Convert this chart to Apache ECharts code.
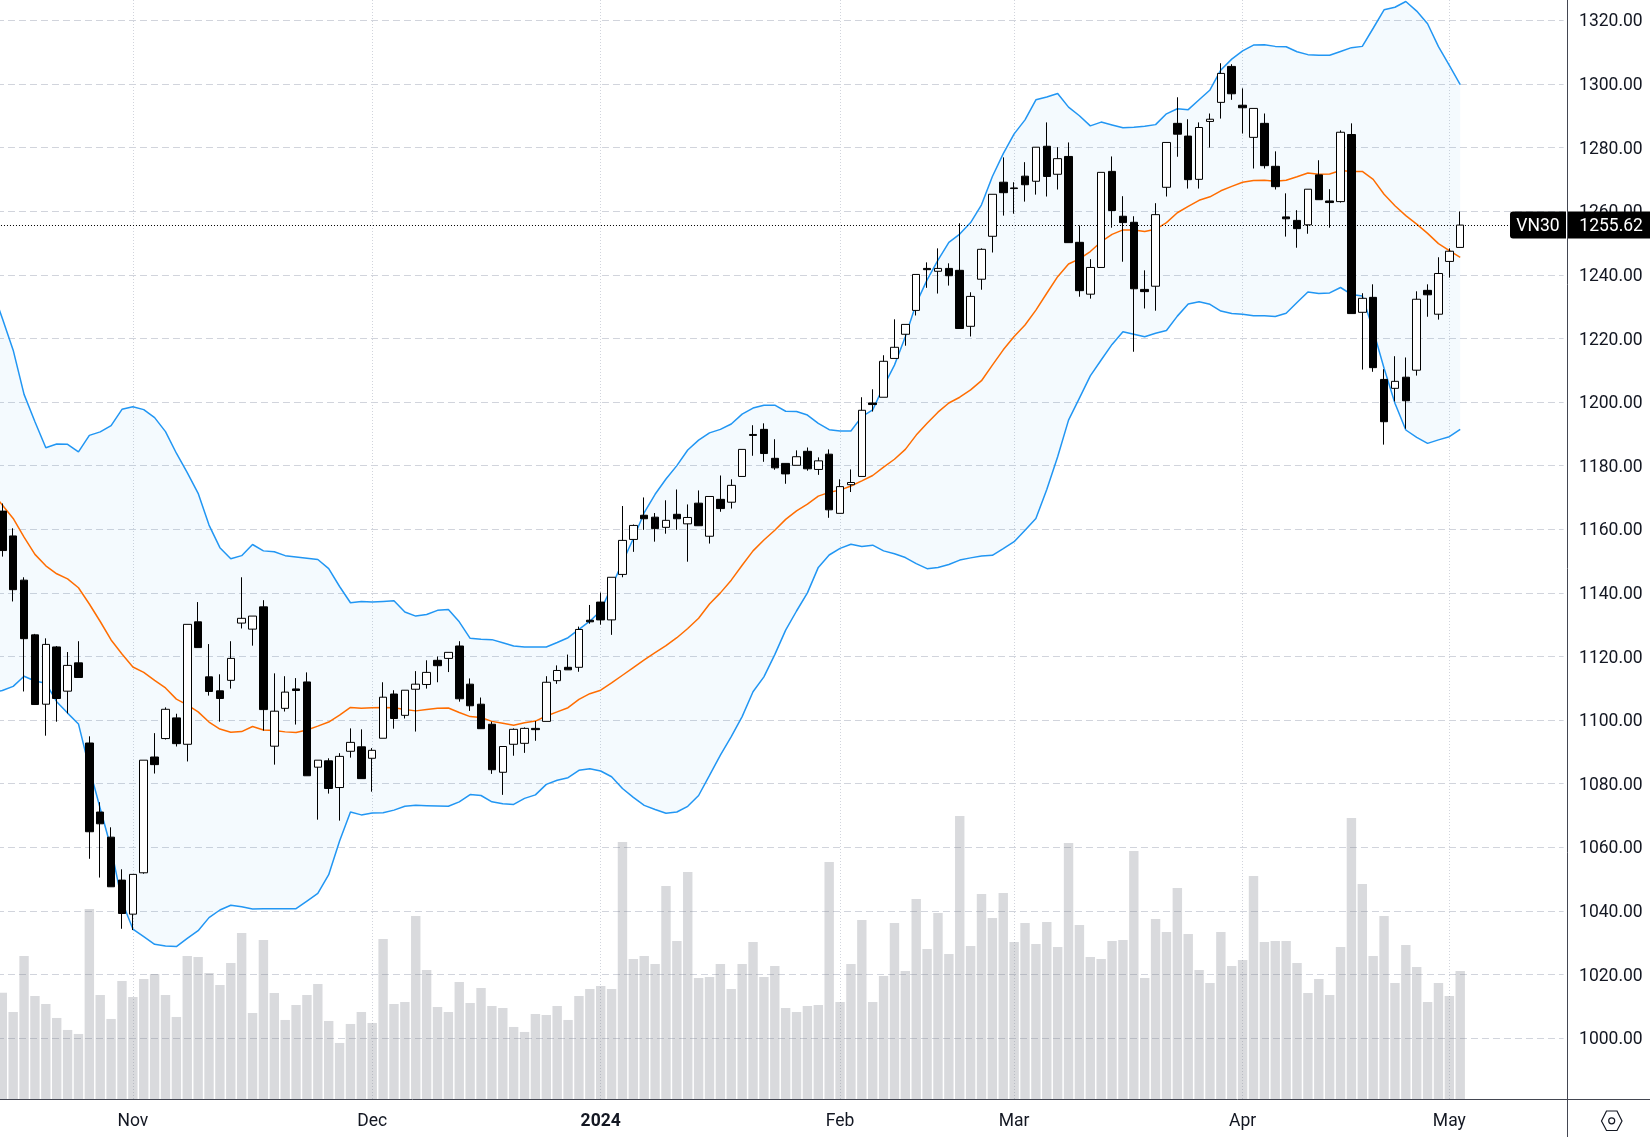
<!DOCTYPE html>
<html>
<head>
<meta charset="utf-8">
<title>VN30 daily</title>
<style>html,body{margin:0;padding:0;background:#fff}#chart{width:1650px;height:1137px}</style>
<script src="https://cdn.jsdelivr.net/npm/echarts@6/dist/echarts.min.js"></script>
</head>
<body>
<div id="chart"></div>
<script>
// Daily sessions, oldest first: [open, close, low, high]. The first row precedes the visible window.
const candles = [
[1170.0,1165.9,1164.5,1172.0],
[1165.7,1153.3,1151.4,1168.1],[1157.9,1141.0,1137.3,1160.3],[1144.0,1125.6,1109.0,1144.9],[1126.8,1104.9,1104.9,1127.1],
[1105.0,1123.8,1095.1,1125.7],[1123.0,1106.8,1099.5,1123.3],[1109.1,1117.2,1102.1,1121.4],[1118.0,1113.4,1113.4,1124.8],
[1092.8,1064.9,1056.4,1094.9],[1071.1,1067.4,1050.5,1074.2],[1063.2,1047.6,1047.6,1066.3],[1049.7,1039.2,1034.4,1053.1],
[1039.0,1051.5,1034.0,1051.5],[1052.0,1087.4,1051.7,1087.4],[1088.4,1086.0,1083.2,1095.9],[1094.2,1103.4,1093.9,1104.0],
[1100.7,1092.6,1091.7,1102.0],[1092.4,1130.1,1087.0,1130.1],[1130.9,1122.8,1122.8,1137.1],[1113.6,1109.0,1107.7,1123.9],
[1109.2,1106.8,1099.5,1114.4],[1112.5,1119.4,1109.9,1124.8],[1130.5,1132.0,1128.8,1144.9],[1128.6,1132.7,1123.4,1132.7],
[1135.6,1103.3,1096.7,1137.7],[1091.8,1102.8,1086.0,1114.7],[1103.7,1108.8,1102.7,1113.8],[1109.8,1109.3,1098.6,1113.2],
[1112.0,1082.5,1082.5,1115.0],[1085.2,1087.4,1068.7,1087.4],[1087.2,1078.5,1076.9,1088.0],[1078.8,1088.6,1068.4,1089.6],
[1090.2,1093.0,1088.2,1097.4],[1091.6,1081.6,1081.6,1097.1],[1088.0,1090.5,1077.5,1091.2],[1094.3,1107.2,1094.3,1111.9],
[1108.2,1100.5,1097.3,1109.4],[1101.5,1109.4,1100.5,1109.4],[1109.7,1111.3,1096.4,1115.4],[1111.2,1115.0,1109.9,1118.8],
[1118.8,1117.1,1111.9,1120.0],[1119.4,1121.3,1115.1,1121.3],[1123.3,1106.7,1105.8,1124.8],[1111.3,1104.5,1102.9,1113.1],
[1105.0,1097.3,1097.3,1107.1],[1098.7,1084.4,1083.1,1099.5],[1083.6,1091.7,1076.5,1091.7],[1092.4,1097.1,1088.8,1097.4],
[1092.7,1097.4,1089.7,1097.7],[1097.4,1097.0,1093.5,1099.7],[1099.6,1111.9,1099.6,1113.8],[1112.4,1115.6,1111.4,1117.2],
[1116.6,1115.8,1115.8,1120.6],[1116.6,1128.5,1115.2,1129.4],[1131.4,1130.9,1130.3,1136.2],[1137.1,1131.5,1130.0,1140.1],
[1131.5,1144.9,1126.8,1144.9],[1145.8,1156.5,1144.9,1167.3],[1156.8,1161.2,1152.9,1161.5],[1164.4,1163.3,1159.8,1170.0],
[1163.8,1160.2,1156.1,1165.1],[1160.6,1162.8,1158.6,1169.1],[1164.7,1163.3,1159.8,1172.5],[1161.7,1163.7,1149.8,1167.8],
[1168.2,1161.1,1161.1,1172.2],[1157.8,1170.3,1155.5,1170.3],[1169.4,1166.5,1165.5,1176.9],[1168.5,1173.8,1166.5,1175.7],
[1176.6,1185.1,1176.6,1185.1],[1189.8,1189.5,1183.1,1192.7],[1191.4,1183.8,1181.2,1193.3],[1182.3,1179.3,1178.7,1188.3],
[1180.7,1177.4,1174.3,1180.7],[1180.1,1182.8,1180.1,1184.8],[1184.5,1179.0,1178.4,1185.7],[1178.8,1181.5,1177.1,1182.6],
[1183.6,1166.1,1163.6,1185.1],[1165.0,1173.4,1165.0,1175.7],[1174.0,1174.7,1171.7,1178.8],[1176.6,1197.4,1176.6,1201.5],
[1199.7,1199.2,1197.0,1204.0],[1201.5,1212.8,1201.5,1214.7],[1213.7,1217.2,1213.7,1226.0],[1221.3,1224.4,1217.7,1224.4],
[1228.8,1240.1,1227.2,1240.1],[1242.0,1241.6,1235.9,1243.9],[1241.1,1242.0,1234.1,1248.3],[1242.0,1239.7,1236.6,1243.6],
[1241.4,1223.1,1223.1,1256.2],[1223.8,1233.2,1220.6,1234.5],[1238.6,1248.0,1235.3,1248.3],[1252.1,1265.3,1247.0,1265.3],
[1269.1,1265.8,1258.6,1276.9],[1267.3,1267.1,1259.2,1269.1],[1271.0,1268.3,1263.0,1275.4],[1269.4,1280.1,1265.2,1280.1],
[1280.4,1270.9,1264.6,1287.9],[1271.6,1276.5,1266.8,1280.1],[1277.2,1250.1,1250.1,1281.6],[1250.2,1235.0,1233.1,1255.5],
[1233.9,1242.3,1232.5,1244.9],[1242.3,1272.2,1242.3,1272.2],[1272.5,1260.2,1254.8,1277.2],[1258.4,1256.4,1244.1,1264.7],
[1256.5,1235.6,1215.8,1258.4],[1235.4,1234.7,1229.4,1241.4],[1236.4,1258.9,1228.7,1262.5],[1267.5,1281.6,1264.6,1281.6],
[1287.6,1284.2,1277.1,1295.8],[1283.6,1269.9,1267.1,1288.9],[1270.0,1286.3,1267.1,1287.9],[1288.2,1288.9,1280.0,1290.7],
[1294.2,1303.3,1289.1,1306.5],[1305.5,1296.9,1295.0,1306.2],[1293.3,1292.5,1284.4,1298.6],[1283.2,1292.3,1273.4,1292.3],
[1287.6,1274.3,1273.4,1290.7],[1274.1,1267.7,1266.8,1278.8],[1258.2,1257.6,1252.0,1265.6],[1257.1,1254.5,1248.5,1260.3],
[1255.7,1266.9,1252.9,1266.9],[1271.4,1263.6,1263.6,1276.0],[1263.2,1262.7,1254.8,1266.9],[1263.0,1284.8,1262.7,1285.4],
[1284.1,1227.8,1227.8,1287.6],[1228.2,1232.6,1210.2,1234.2],[1232.9,1210.8,1209.5,1237.0],[1207.1,1193.8,1186.6,1210.3],
[1204.3,1206.5,1200.2,1214.4],[1207.8,1200.4,1191.6,1214.0],[1210.0,1232.3,1208.3,1234.8],[1235.1,1233.7,1226.8,1237.0],
[1227.6,1240.4,1225.9,1245.5],[1244.2,1247.4,1239.1,1248.3],[1248.6,1255.62,1248.6,1259.9]
];

// Traded volume per session, in millions of shares
const volumes = [
33.0,
32.0,26.2,43.0,31.0,28.6,24.4,20.8,19.6,57.1,31.3,24.1,35.5,30.7,36.1,37.6,31.3,24.7,43.0,42.7,37.9,
34.3,40.9,49.9,25.9,47.8,31.9,23.8,28.3,31.3,34.6,23.5,16.9,22.6,26.2,22.9,48.1,28.6,29.2,55.0,38.8,
27.7,26.2,35.2,28.9,33.4,28.0,27.4,21.7,20.2,25.6,25.3,28.0,23.8,31.0,33.1,34.0,33.1,77.2,42.1,43.0,
40.6,64.0,47.5,68.2,36.4,36.7,40.6,33.1,40.6,47.2,36.7,40.0,27.4,26.2,28.0,28.3,71.2,29.2,40.6,53.8,
29.2,37.0,52.9,38.5,60.1,45.1,55.9,43.6,85.0,46.0,61.6,54.4,61.9,47.2,52.9,46.6,53.2,45.7,76.9,52.3,
42.7,42.1,47.5,47.8,74.5,36.4,54.1,50.2,63.4,49.6,38.8,34.9,50.2,40.0,41.8,67.0,47.2,47.5,47.5,40.9,
31.9,36.1,31.3,45.7,84.4,64.6,43.0,55.0,34.9,46.3,39.7,29.2,34.9,31.0,38.5
];

// Bollinger bands and their 20-session mean
const upperBand = [
1236.0,
1226.3,1216.3,1202.4,1193.8,1185.6,1186.8,1186.7,1184.3,1189.5,1190.6,
1192.6,1197.7,1198.5,1197.6,1195.1,1190.7,1183.9,1177.8,1171.3,1161.3,
1154.2,1150.7,1151.7,1155.2,1153.2,1152.9,1151.7,1151.3,1150.9,1150.5,
1147.6,1142.0,1136.9,1137.3,1137.1,1137.3,1137.5,1134.0,1132.7,1133.2,
1134.5,1134.8,1130.9,1125.7,1125.4,1125.3,1124.3,1123.3,1123.0,1123.0,
1123.0,1124.4,1125.9,1128.5,1131.1,1134.4,1141.9,1149.6,1157.1,1165.2,
1171.0,1175.8,1180.0,1184.9,1188.0,1190.3,1191.4,1193.1,1196.2,1198.1,
1199.0,1199.0,1197.1,1197.0,1195.9,1193.3,1191.3,1190.9,1190.9,1195.4,
1197.5,1204.9,1211.6,1220.5,1231.0,1238.4,1244.6,1250.2,1252.8,1256.4,
1262.0,1270.9,1278.1,1284.3,1288.7,1295.0,1295.9,1297.0,1292.7,1290.0,
1286.8,1288.0,1287.1,1286.2,1286.4,1286.7,1287.2,1290.6,1292.2,1291.9,
1295.0,1298.1,1304.4,1307.8,1310.4,1312.2,1312.3,1311.8,1311.7,1310.1,
1309.2,1309.0,1309.0,1310.2,1311.4,1311.8,1317.5,1323.3,1324.1,1325.9,
1322.9,1318.9,1311.7,1305.8,1299.8
];
const middleBand = [
1172.0,
1167.6,1163.4,1157.5,1152.1,1148.5,1146.0,1144.4,1141.6,1136.5,1131.0,
1125.2,1120.8,1116.7,1115.0,1112.5,1110.1,1106.6,1104.8,1102.6,1099.4,
1097.2,1096.2,1096.4,1098.0,1096.9,1096.7,1096.3,1096.1,1096.9,1098.1,
1099.4,1101.6,1104.0,1103.7,1103.9,1104.0,1103.9,1103.3,1102.9,1103.3,
1103.7,1103.8,1102.4,1101.1,1100.8,1099.6,1099.0,1098.4,1099.2,1099.7,
1101.3,1102.6,1103.9,1106.5,1108.3,1109.4,1111.7,1114.1,1116.5,1118.9,
1121.2,1123.4,1125.9,1128.8,1132.0,1136.5,1140.0,1144.0,1148.7,1153.2,
1156.6,1159.7,1163.1,1165.8,1167.9,1170.4,1171.6,1172.3,1173.6,1175.2,
1176.9,1179.5,1182.0,1185.1,1189.6,1193.3,1196.8,1199.7,1201.5,1203.8,
1206.7,1211.6,1216.4,1220.6,1224.2,1228.9,1234.2,1239.4,1243.4,1245.0,
1247.3,1250.4,1252.7,1254.1,1254.1,1253.6,1254.3,1256.4,1259.5,1261.5,
1263.4,1264.5,1266.4,1267.8,1269.1,1269.6,1269.7,1269.4,1269.7,1270.8,
1272.0,1271.6,1271.7,1272.8,1272.5,1272.5,1270.0,1265.3,1261.7,1258.6,
1255.9,1253.0,1249.8,1247.6,1245.5
];
const lowerBand = [
1108.5,
1109.3,1110.6,1113.8,1112.3,1111.6,1105.8,1102.2,1098.8,1084.9,1072.2,
1059.7,1043.0,1034.3,1031.9,1029.5,1029.0,1028.8,1031.4,1033.8,1037.9,
1040.3,1041.8,1041.3,1040.6,1040.7,1040.7,1040.7,1040.7,1043.1,1045.5,
1051.4,1062.0,1071.1,1070.2,1070.8,1070.9,1071.7,1072.9,1073.2,1073.1,
1073.0,1072.9,1074.3,1076.6,1076.3,1074.3,1073.7,1073.5,1075.4,1076.5,
1079.8,1081.1,1081.9,1084.2,1084.7,1084.0,1082.2,1078.5,1075.7,1073.2,
1071.9,1070.7,1071.1,1072.9,1076.3,1082.6,1089.0,1094.8,1101.1,1108.9,
1113.6,1120.6,1128.3,1134.3,1140.0,1148.0,1151.9,1154.0,1155.3,1154.6,
1155.0,1153.2,1152.3,1151.1,1149.2,1147.6,1148.0,1148.9,1150.3,1151.0,
1151.6,1151.8,1153.9,1156.1,1159.7,1163.4,1172.5,1182.8,1194.3,1201.2,
1208.2,1213.2,1218.1,1222.1,1221.3,1220.5,1221.6,1222.5,1227.0,1230.8,
1231.5,1230.7,1228.6,1227.8,1227.6,1227.1,1227.1,1226.9,1227.9,1231.3,
1234.6,1234.1,1234.3,1236.0,1233.8,1233.3,1222.6,1210.6,1199.6,1191.2,
1188.9,1187.0,1188.1,1189.1,1191.4
];

// Month ticks: session position and caption
const monthPositions = [13, 35, 56, 78, 94, 115, 134];
const monthLabels = ['Nov', 'Dec', '2024', 'Feb', 'Mar', 'Apr', 'May'];
const symbolName = 'VN30';
const lastPrice = 1255.62;

// Room for ten empty sessions right of the last candle
const slotCount = 145;
const categories = [];
for (let i = 0; i < slotCount; i++) {
  const m = monthPositions.indexOf(i);
  categories.push(m >= 0 ? monthLabels[m] : 's' + i);
}

const UI_FONT = 'Roboto, sans-serif';
const FONT_SIZE = 17.5;
const isMonth = i => monthPositions.indexOf(i) >= 0;
const GRID_LEFT = -14.02, GRID_WIDTH = 1577.6;

const chart = echarts.init(document.getElementById('chart'), null, { renderer: 'canvas' });

chart.setOption({
  animation: false,
  backgroundColor: '#ffffff',
  grid: [
    { left: GRID_LEFT, width: GRID_WIDTH, top: 0, height: 1038.2, outerBoundsMode: 'none' },
    { left: GRID_LEFT, width: GRID_WIDTH, top: 0, height: 1099.3, outerBoundsMode: 'none' }
  ],
  xAxis: [
    { type: 'category', gridIndex: 0, data: categories, show: false },
    {
      type: 'category', gridIndex: 1, data: categories,
      axisLine: { show: false }, axisTick: { show: false },
      splitLine: {
        show: true, interval: i => isMonth(i), alignWithLabel: true,
        lineStyle: { color: '#d1d4dc', type: [1, 2], width: 1 }
      },
      axisLabel: {
        interval: i => isMonth(i), margin: 13, hideOverlap: false,
        color: '#131722', fontFamily: UI_FONT, fontSize: FONT_SIZE,
        formatter: v => (v === '2024' ? '{year|2024}' : v),
        rich: { year: { fontWeight: 'bold', fontFamily: UI_FONT, fontSize: FONT_SIZE, color: '#131722' } }
      }
    }
  ],
  yAxis: [
    {
      type: 'value', gridIndex: 0, position: 'right', min: 1000, max: 1326.38, interval: 20,
      axisLine: { show: false }, axisTick: { show: false },
      splitLine: { show: true, showMaxLine: false, lineStyle: { color: '#d1d4dc', type: [7, 4], width: 1 } },
      axisLabel: {
        showMaxLabel: false, margin: 15.5, align: 'left', verticalAlign: 'top', lineHeight: 3.5,
        color: '#131722', fontFamily: UI_FONT, fontSize: FONT_SIZE,
        formatter: v => v.toFixed(2)
      }
    },
    { type: 'value', gridIndex: 1, min: 0, max: 329.79, show: false, splitLine: { show: false } }
  ],
  series: [
    {
      name: 'Volume', type: 'bar', xAxisIndex: 1, yAxisIndex: 1, data: volumes, barWidth: 9.4, z: 1,
      itemStyle: { color: 'rgba(120,123,134,0.28)' }, silent: true
    },
    {
      name: 'Band fill', type: 'custom', xAxisIndex: 0, yAxisIndex: 0, z: 2, silent: true,
      data: upperBand.map((u, i) => [i, u, lowerBand[i]]),
      encode: { x: 0, y: [1, 2] },
      renderItem: (params, api) => {
        if (params.dataIndex !== 0) return null;
        const top = upperBand.map((v, i) => api.coord([i, v]));
        const bottom = lowerBand.map((v, i) => api.coord([i, v])).reverse();
        return {
          type: 'polygon',
          shape: { points: top.concat(bottom) },
          style: { fill: 'rgba(33,150,243,0.05)', stroke: null }
        };
      }
    },
    {
      name: 'Upper', type: 'line', xAxisIndex: 0, yAxisIndex: 0, data: upperBand, showSymbol: false, z: 3, silent: true,
      lineStyle: { color: '#2196f3', width: 1.5 }
    },
    {
      name: 'Lower', type: 'line', xAxisIndex: 0, yAxisIndex: 0, data: lowerBand, showSymbol: false, z: 3, silent: true,
      lineStyle: { color: '#2196f3', width: 1.5 }
    },
    {
      name: 'Basis', type: 'line', xAxisIndex: 0, yAxisIndex: 0, data: middleBand, showSymbol: false, z: 3, silent: true,
      lineStyle: { color: '#ff6d00', width: 1.5 }
    },
    {
      name: symbolName, type: 'candlestick', xAxisIndex: 0, yAxisIndex: 0, data: candles, barWidth: 8, z: 4, silent: true,
      itemStyle: {
        color: '#ffffff', color0: '#000000',
        borderColor: '#000000', borderColor0: '#000000', borderWidth: 1
      },
      markLine: {
        silent: true, symbol: 'none', animation: false, z: 4,
        label: { show: false },
        lineStyle: { color: '#000000', type: [1, 2], width: 1 },
        data: [{ yAxis: lastPrice }]
      }
    }
  ]
});

// Price axis frame, last-price tags and the scale settings button
const tagY = chart.convertToPixel({ yAxisIndex: 0 }, lastPrice);
const tagH = 27;
const tagFont = FONT_SIZE + 'px ' + UI_FONT;
const frame = '#434651';
chart.setOption({
  graphic: [
    { type: 'line', z: 10, shape: { x1: 1567.5, y1: 0, x2: 1567.5, y2: 1137 }, style: { stroke: frame, lineWidth: 1 } },
    { type: 'line', z: 10, shape: { x1: 0, y1: 1099.5, x2: 1650, y2: 1099.5 }, style: { stroke: frame, lineWidth: 1 } },
    { type: 'rect', z: 11, shape: { x: 1510, y: tagY - tagH / 2, width: 56, height: tagH, r: [3, 0, 0, 3] }, style: { fill: '#000' } },
    { type: 'rect', z: 11, shape: { x: 1568, y: tagY - tagH / 2, width: 82, height: tagH }, style: { fill: '#000' } },
    { type: 'text', z: 12, x: 1538, y: tagY + 2, style: { text: symbolName, fill: '#fff', font: tagFont, textAlign: 'center', textVerticalAlign: 'middle' } },
    { type: 'text', z: 12, x: 1579.3, y: tagY + 2, style: { text: lastPrice.toFixed(2), fill: '#fff', font: tagFont, textAlign: 'left', textVerticalAlign: 'middle' } },
    {
      type: 'polygon', z: 11,
      shape: { points: [[1601.5, 1121], [1606.5, 1111], [1617, 1111], [1622, 1121], [1617, 1130.5], [1606.5, 1130.5]] },
      style: { fill: 'none', stroke: '#131722', lineWidth: 1.2 }
    },
    { type: 'circle', z: 11, shape: { cx: 1611.7, cy: 1120.8, r: 3 }, style: { fill: 'none', stroke: '#131722', lineWidth: 1.2 } }
  ]
});
</script>
</body>
</html>
